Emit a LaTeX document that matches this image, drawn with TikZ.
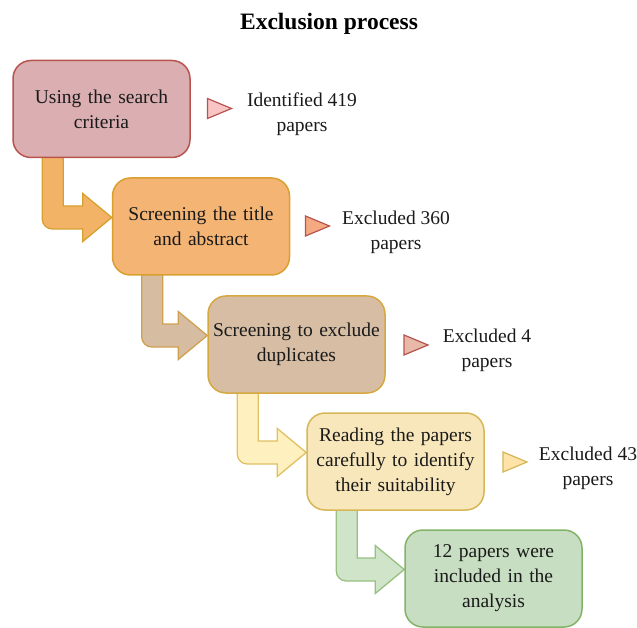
\documentclass[tikz,border=0pt]{standalone}
\usepackage{fontspec}
\setmainfont{Liberation Serif}
\usetikzlibrary{calc,backgrounds}
\definecolor{txt}{HTML}{1A1A1A}
\definecolor{bAf}{HTML}{DBAFB1}\definecolor{bAd}{HTML}{B85450}
\definecolor{bBf}{HTML}{F4B474}\definecolor{bBd}{HTML}{D9A030}
\definecolor{bCf}{HTML}{D6BDA3}\definecolor{bCd}{HTML}{D6A940}
\definecolor{bDf}{HTML}{F8E7BA}\definecolor{bDd}{HTML}{D6B656}
\definecolor{bEf}{HTML}{C8DEC2}\definecolor{bEd}{HTML}{82B366}
\definecolor{aAf}{HTML}{F2B366}\definecolor{aAd}{HTML}{D6A030}
\definecolor{aBf}{HTML}{D6BDA2}\definecolor{aBd}{HTML}{CFA050}
\definecolor{aCf}{HTML}{FFF0C0}\definecolor{aCd}{HTML}{E0C060}
\definecolor{aDf}{HTML}{D0E4CA}\definecolor{aDd}{HTML}{97C080}
\definecolor{tAf}{HTML}{F8C4C4}\definecolor{tBf}{HTML}{F4A980}
\definecolor{tCf}{HTML}{E8B8A8}\definecolor{tDf}{HTML}{FFE3A8}
\newcommand\flowarrow[3]{%
  \draw[#3] let \p1=(#1.south west), \p2=(#2.west) in
  (\x1+30pt,\y1+3pt) [rounded corners=10pt] -- (\x1+30pt,\y2+9pt-11.5pt) [sharp corners]
  -- (\x2-29pt,\y2+9pt-11.5pt) -- (\x2-29pt,\y2+9pt-24pt) -- (\x2,\y2+9pt)
  -- (\x2-29pt,\y2+9pt+24pt) -- (\x2-29pt,\y2+9pt+11.5pt)
  -- (\x1+51pt,\y2+9pt+11.5pt) -- (\x1+51pt,\y1+3pt) -- cycle;}
\newcommand\markertri[3]{%
  \draw[line width=1.2pt,draw=#3,fill=#2,line join=miter] (#1) ++(-12pt,10pt) -- ++(24pt,-10pt) -- ++(-24pt,-10pt) -- cycle;}
\tikzset{
  stepbox/.style={rounded corners=18pt,line width=1.5pt,minimum width=177pt,minimum height=97pt,
    text width=170pt,align=center,inner sep=0pt,text=txt,font=\fontsize{19.5}{25}\selectfont},
  lbl/.style={align=center,text=txt,inner sep=0pt,font=\fontsize{19.5}{25}\selectfont},
  arr/.style={line width=1.3pt,line join=miter}
}
\begin{document}
\begin{tikzpicture}[x=1pt,y=-1pt]
\useasboundingbox (0,0) rectangle (637,628);
\node[font=\fontsize{23.5}{28}\selectfont\bfseries,text=black] (title) at (329,24) {Exclusion process};
\node[stepbox,fill=bAf,draw=bAd] (b1) at (101.5,109) {Using the search\\criteria};
\node[stepbox,fill=bBf,draw=bBd] (b2) at (201,226.5) {Screening the title\\and abstract};
\node[stepbox,fill=bCf,draw=bCd] (b3) at (296.5,344.5) {Screening to exclude\\duplicates};
\node[stepbox,fill=bDf,draw=bDd] (b4) at (395.5,461.5) {Reading the papers\\carefully to identify\\their suitability};
\node[stepbox,fill=bEf,draw=bEd] (b5) at (493.5,578.5) {12 papers were\\included in the\\analysis};
\begin{pgfonlayer}{background}
\flowarrow{b1}{b2}{arr,fill=aAf,draw=aAd}
\flowarrow{b2}{b3}{arr,fill=aBf,draw=aBd}
\flowarrow{b3}{b4}{arr,fill=aCf,draw=aCd}
\flowarrow{b4}{b5}{arr,fill=aDf,draw=aDd}
\end{pgfonlayer}
\coordinate (t1) at (219.5,108.5);
\coordinate (t2) at (317.5,226);
\coordinate (t3) at (416,345);
\coordinate (t4) at (515,462);
\markertri{t1}{tAf}{bAd}
\markertri{t2}{tBf}{bAd}
\markertri{t3}{tCf}{bAd}
\markertri{t4}{tDf}{bDd}
\node[lbl] (l1) at (302,114) {Identified 419\\papers};
\node[lbl] (l2) at (396,232) {Excluded 360\\papers};
\node[lbl] (l3) at (487,350) {Excluded 4\\papers};
\node[lbl] (l4) at (588,468) {Excluded 43\\papers};
\end{tikzpicture}
\end{document}
